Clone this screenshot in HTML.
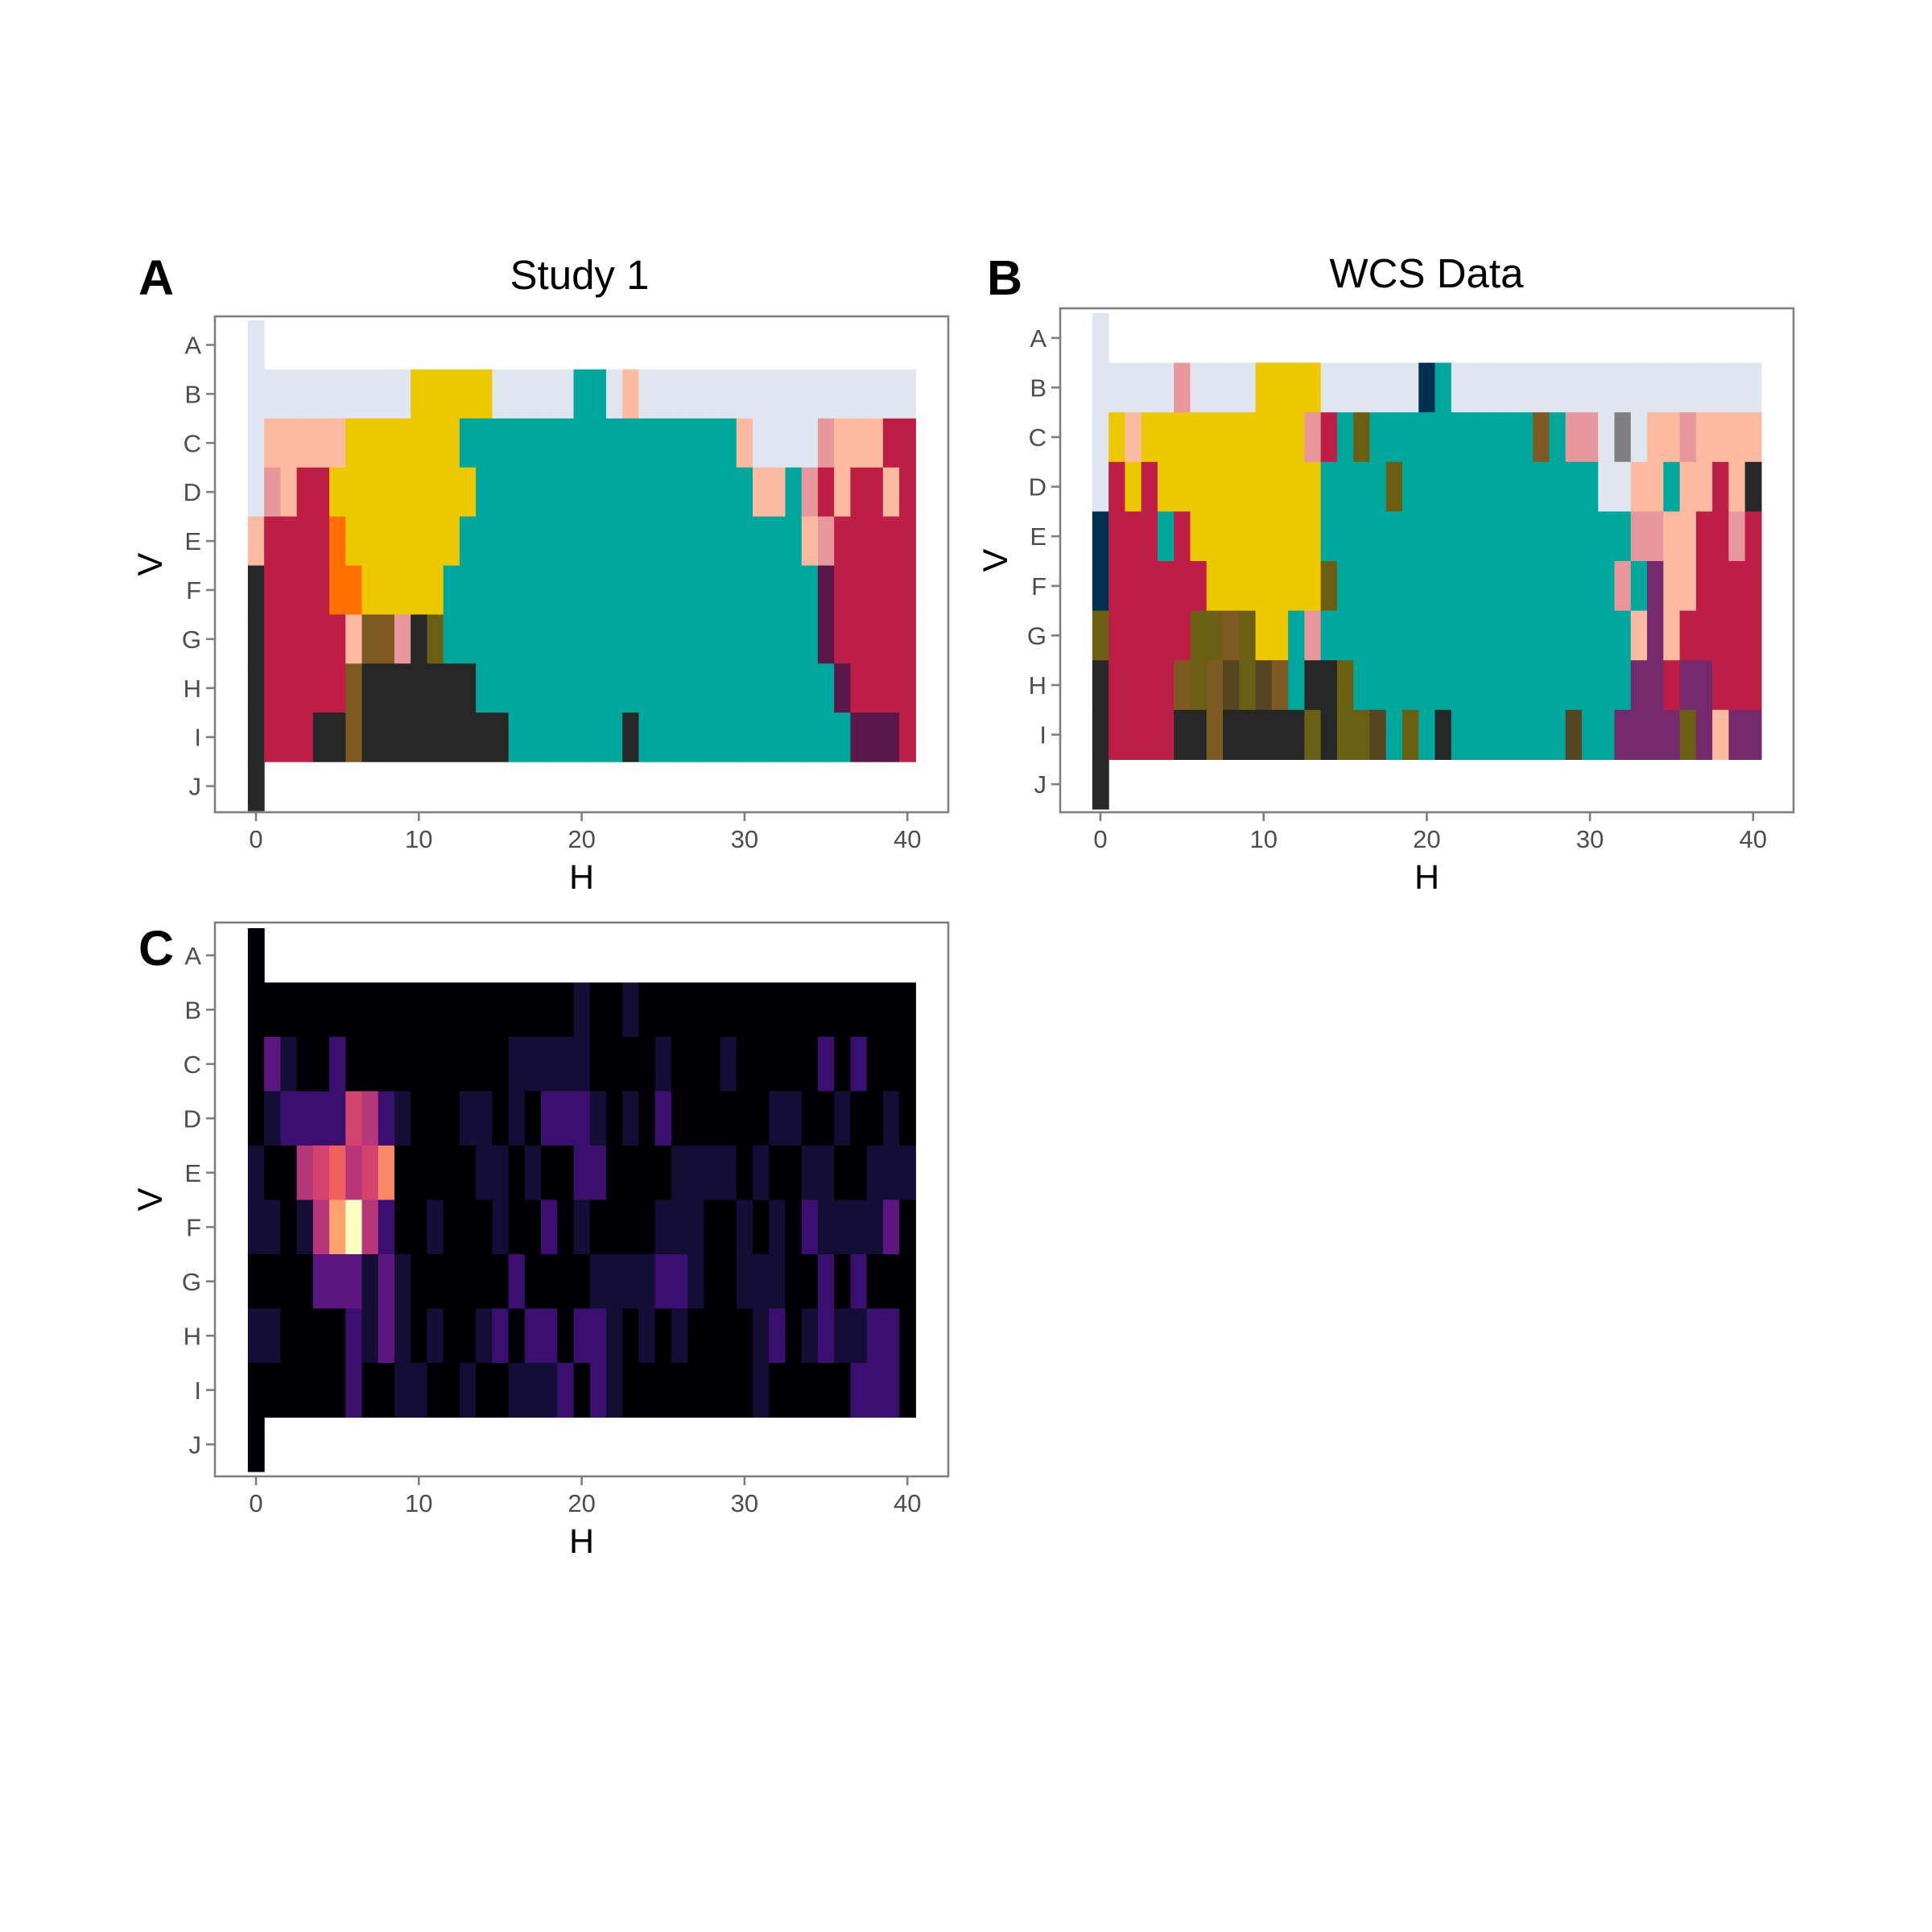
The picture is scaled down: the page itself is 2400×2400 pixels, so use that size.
<!DOCTYPE html>
<html><head><meta charset="utf-8"><style>
html,body{margin:0;padding:0;background:#fff;}
svg{display:block;font-family:"Liberation Sans",sans-serif;}
</style></head><body>
<svg id="fig" width="2400" height="2400" viewBox="0 0 2400 2400" xmlns="http://www.w3.org/2000/svg">
<rect x="0" y="0" width="2400" height="2400" fill="#fff"/>
<text x="172" y="366" font-size="61" font-weight="bold">A</text>
<text x="720" y="359" font-size="51" text-anchor="middle">Study 1</text>
<text x="1226" y="366" font-size="61" font-weight="bold">B</text>
<text x="1772" y="357" font-size="51" text-anchor="middle">WCS Data</text>
<text x="172" y="1199" font-size="61" font-weight="bold">C</text>
<g id="pA"></g>
<g id="pB"></g>
<g id="pC"></g>
</svg>
<script>
// ---- data ----
const rowLabels = ["A","B","C","D","E","F","G","H","I","J"];
const xTicks = [0,10,20,30,40];
const palette = {L:"#e0e6ef",Y:"#ebc800",T:"#00a79d",P:"#fcbba1",K:"#e8989d",R:"#be1e46",O:"#ff6e00",D:"#272727",B:"#7d5a22",o:"#6b5f14",M:"#59174a",N:"#00304f",G:"#7f7f7f",V:"#77296e",d:"#554520"};
// Study 1: each row string = cells for H=0..40 ('.' = empty)
const study1Rows = [
"L........................................",
"LLLLLLLLLLYYYYYLLLLLTTLPLLLLLLLLLLLLLLLLL",
"LPPPPPYYYYYYYTTTTTTTTTTTTTTTTTPLLLLKPPPRR",
"LKPRRYYYYYYYYYTTTTTTTTTTTTTTTTTPPTKRPRRPR",
"PRRRROYYYYYYYTTTTTTTTTTTTTTTTTTTTTPKRRRRR",
"DRRRROOYYYYYTTTTTTTTTTTTTTTTTTTTTTTMRRRRR",
"DRRRRRPBBKDoTTTTTTTTTTTTTTTTTTTTTTTMRRRRR",
"DRRRRRBDDDDDDDTTTTTTTTTTTTTTTTTTTTTTMRRRR",
"DRRRDDBDDDDDDDDDTTTTTTTDTTTTTTTTTTTTTMMMR",
"D........................................"
];
const wcsRows = [
"L........................................",
"LLLLLKLLLLYYYYLLLLLLNTLLLLLLLLLLLLLLLLLLL",
"LYPYYYYYYYYYYKRToTTTTTTTTTTBTKKLGLPPKPPPP",
"LRYRYYYYYYYYYYTTTToTTTTTTTTTTTTLLPPTPPRPD",
"NRRRTRYYYYYYYYTTTTTTTTTTTTTTTTTTTKKPPRRKR",
"NRRRRRRYYYYYYYoTTTTTTTTTTTTTTTTTKTVPPRRRR",
"oRRRRRooBoYYTKTTTTTTTTTTTTTTTTTTTPVPRRRRR",
"DRRRRBoBdodBTDDoTTTTTTTTTTTTTTTTTVVRVVRRR",
"DRRRRDDBDDDDDoDoodToTDTTTTTTTdTTVVVVoVPVV",
"D........................................"
];
// Panel C: intensity levels 0..9 (magma), -1 = empty
const E = -1;
const heatA = [0,E,E,E,E,E,E,E,E,E,E,E,E,E,E,E,E,E,E,E,E,E,E,E,E,E,E,E,E,E,E,E,E,E,E,E,E,E,E,E,E];
const heatB = [0,0,0,0,0,0,0,0,0,0,0,0,0,0,0,0,0,0,0,0,1,0,0,1,0,0,0,0,0,0,0,0,0,0,0,0,0,0,0,0,0];
const heatC = [0,3,1,0,0,2,0,0,0,0,0,0,0,0,0,0,1,1,1,1,1,0,0,0,0,1,0,0,0,1,0,0,0,0,0,2,0,2,0,0,0];
const heatD = [0,1,2,2,2,2,6,5,2,1,0,0,0,1,1,0,1,0,2,2,2,1,0,1,0,2,0,0,0,0,0,0,1,1,0,0,1,0,0,1,0];
const heatE = [1,0,0,5,6,7,5,6,7.6,0,0,0,0,0,1,1,0,1,0,0,2,2,0,0,0,0,1,1,1,1,0,1,0,0,1,1,0,0,1,1,1];
const heatF = [1,1,0,1,5,8,9,5,2,0,0,1,0,0,0,1,0,0,2,0,1,0,0,0,0,1,1,1,0,0,1,0,1,0,2,1,1,1,1,3,0];
const heatG = [0,0,0,0,3,3,3,1,3,1,0,0,0,0,0,0,2,0,0,0,0,1,1,1,1,2,2,1,0,0,1,1,1,0,0,2,0,2,0,0,0];
const heatH = [1,1,0,0,0,0,2,1,3,1,0,1,0,0,1,2,0,2,2,0,2,2,1,0,1,0,1,0,0,0,0,1,2,0,1,2,1,1,2,2,0];
const heatI = [0,0,0,0,0,0,2,0,0,1,1,0,0,1,0,0,1,1,1,2,0,2,1,0,0,0,0,0,0,0,0,1,0,0,0,0,0,2,2,2,0];
const heatJ = [0,E,E,E,E,E,E,E,E,E,E,E,E,E,E,E,E,E,E,E,E,E,E,E,E,E,E,E,E,E,E,E,E,E,E,E,E,E,E,E,E];
const heatRows = [heatA,heatB,heatC,heatD,heatE,heatF,heatG,heatH,heatI,heatJ];
const magmaStops = ["#000004","#140e36","#3b0f70","#5c167f","#8c2981","#b5367a","#d3436e","#f1605d","#fea16e","#fcfdbf"];

// ---- drawing ----
const NS="http://www.w3.org/2000/svg";
function mk(tag,attrs,parent){const e=document.createElementNS(NS,tag);for(const k in attrs)e.setAttribute(k,attrs[k]);parent.appendChild(e);return e;}
function hex(c){return [parseInt(c.slice(1,3),16),parseInt(c.slice(3,5),16),parseInt(c.slice(5,7),16)];}
function magma(v){const i=Math.min(8,Math.floor(v));const t=v-i;const a=hex(magmaStops[i]),b=hex(magmaStops[Math.min(9,i+1)]);
 return "rgb("+a.map((x,k)=>Math.round(x+(b[k]-x)*t)).join(",")+")";}

function panel(gid, box, x0px, unit, tileTop, rowH, colorAt, prefix){
 const g=document.getElementById(gid);
 const xs=h=>x0px+unit*h;
 const ys=r=>tileTop+rowH*r;
 for(let r=0;r<rowLabels.length;r++){
  for(let h=0;h<41;h++){
   const c=colorAt(r,h); if(!c) continue;
   const rect=mk("rect",{x:(xs(h-0.5)).toFixed(2),y:(ys(r)).toFixed(2),width:(unit+0.6).toFixed(2),height:(rowH+0.6).toFixed(2),fill:c},g);
   
   
  }
 }
 const border=mk("rect",{x:box.x0,y:box.y0,width:box.x1-box.x0,height:box.y1-box.y0,fill:"none",stroke:"#7f7f7f","stroke-width":2.6},g);
 
 
 for(let r=0;r<rowLabels.length;r++){
  const yc=ys(r)+rowH/2;
  const tk=mk("line",{x1:box.x0-11,x2:box.x0,y1:yc,y2:yc,stroke:"#7f7f7f","stroke-width":2.6},g);
  
  
  const t=mk("text",{x:box.x0-17,y:yc+11,"font-size":31,fill:"#4d4d4d","text-anchor":"end"},g);
  t.textContent=rowLabels[r];
  
  
 }
 for(const v of xTicks){
  const xc=xs(v);
  const tk=mk("line",{x1:xc,x2:xc,y1:box.y1,y2:box.y1+11,stroke:"#7f7f7f","stroke-width":2.6},g);
  
  
  const t=mk("text",{x:xc,y:box.y1+44,"font-size":31,fill:"#4d4d4d","text-anchor":"middle"},g);
  t.textContent=String(v);
  
  
 }
 const xt=mk("text",{x:(box.x0+box.x1)/2,y:box.y1+95,"font-size":43,"text-anchor":"middle",fill:"#000"},g);
 xt.textContent="H";
 
 
 const cy=(box.y0+box.y1)/2, cx=box.x0-66;
 const yt=mk("text",{x:cx,y:cy,"font-size":43,"text-anchor":"middle",fill:"#000",transform:"rotate(-90 "+cx+" "+cy+")"},g);
 yt.textContent="V";
 
 
}
panel("pA",{x0:267,x1:1178,y0:393,y1:1009},318,20.23,398,60.9,
 (r,h)=>{const ch=study1Rows[r][h];return ch==="."?null:palette[ch];},"study1");
panel("pB",{x0:1317,x1:2228,y0:383,y1:1009},1367,20.27,389,61.6,
 (r,h)=>{const ch=wcsRows[r][h];return ch==="."?null:palette[ch];},"wcs");
panel("pC",{x0:267,x1:1178,y0:1146,y1:1834},318,20.23,1153,67.5,
 (r,h)=>{const v=heatRows[r][h];return v<0?null:magma(v);},"heatmap");
</script>
</body></html>
